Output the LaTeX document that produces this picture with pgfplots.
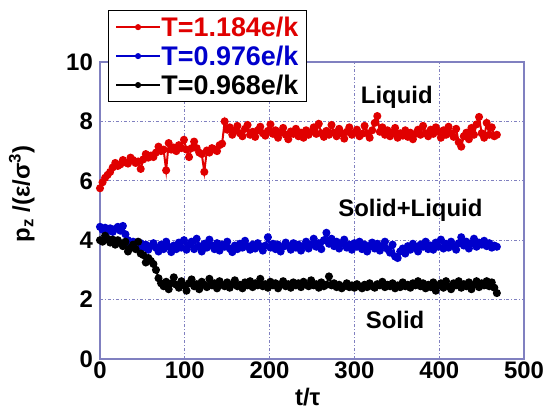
\documentclass[border=0pt]{standalone}
\usepackage{pgfplots}
\pgfplotsset{compat=1.18}
\usepackage{fontspec}
\setmainfont{Liberation Sans}
\definecolor{axc}{RGB}{128,128,192}
\definecolor{myred}{RGB}{224,0,0}
\definecolor{myblue}{RGB}{0,0,204}
\newcommand{\bigf}{\fontsize{24}{28}\selectfont\bfseries}
\newcommand{\legf}{\fontsize{27}{31}\selectfont\bfseries}

\pgfplotstableread{
x y
0 5.75
3 5.95
6 6.10
9 6.20
12 6.30
15 6.45
18 6.60
21 6.50
24 6.55
27 6.70
30 6.62
33 6.58
36 6.78
39 6.70
42 6.60
45 6.65
48 6.40
51 6.72
54 6.90
57 6.78
60 6.85
63 6.80
66 6.95
69 7.15
72 7.00
75 7.05
78 6.35
81 7.27
84 7.05
87 7.12
90 7.00
93 7.20
96 7.10
99 7.38
102 7.05
105 6.80
108 7.10
111 7.32
114 7.10
117 6.95
120 6.90
123 6.30
126 7.02
129 6.95
132 7.10
135 7.05
138 7.00
141 7.20
144 7.25
147 8.00
150 7.72
153 7.80
156 7.55
159 7.70
162 7.85
165 7.60
168 7.50
171 7.75
174 7.88
177 7.55
180 7.65
183 7.48
186 7.70
189 7.82
192 7.60
195 7.52
198 7.68
201 7.90
204 7.58
207 7.70
210 7.45
213 7.62
216 7.78
219 7.55
222 7.40
225 7.66
228 7.58
231 7.75
234 7.50
237 7.62
240 7.45
243 7.70
246 7.55
249 7.65
252 7.80
255 7.58
258 7.92
261 7.60
264 7.48
267 7.68
270 7.55
273 7.88
276 7.62
279 7.50
282 7.75
285 7.60
288 7.42
291 7.65
294 7.80
297 7.55
300 7.62
303 7.72
306 7.50
309 7.58
312 7.85
315 7.60
318 7.45
321 7.70
324 7.95
327 8.18
330 7.65
333 7.80
336 7.55
339 7.70
342 7.50
345 7.62
348 7.78
351 7.45
354 7.60
357 7.52
360 7.70
363 7.48
366 7.62
369 7.40
372 7.58
375 7.72
378 7.55
381 7.85
384 7.60
387 7.50
390 7.72
393 7.58
396 7.80
399 7.65
402 7.45
405 7.70
408 7.55
411 7.82
414 7.60
417 7.48
420 7.75
423 7.30
426 7.15
429 7.50
432 7.62
435 7.40
438 7.78
441 7.55
444 7.90
447 8.15
450 7.60
453 7.45
456 7.95
459 7.55
462 7.80
465 7.50
468 7.55
}\redtab

\pgfplotstableread{
x y
0 4.45
3 4.35
6 4.42
9 4.30
12 4.40
15 4.28
18 4.38
21 4.45
24 4.32
27 4.48
30 4.20
33 4.00
36 3.85
39 3.95
42 3.80
45 3.72
48 3.90
51 3.75
54 3.85
57 3.68
60 3.80
63 3.90
66 3.75
69 3.62
72 3.85
75 3.70
78 3.95
81 3.78
84 3.60
87 3.82
90 3.70
93 3.92
96 3.75
99 4.00
102 3.68
105 3.85
108 3.95
111 3.70
114 4.05
117 3.80
120 3.62
123 3.88
126 3.75
129 4.02
132 3.82
135 3.70
138 3.90
141 3.65
144 3.85
147 3.78
150 3.95
153 3.72
156 3.60
159 3.82
162 3.70
165 3.88
168 3.75
171 3.98
174 3.80
177 3.68
180 3.85
183 3.72
186 3.90
189 3.78
192 3.65
195 3.82
198 4.10
201 3.75
204 3.88
207 3.70
210 3.85
213 3.62
216 3.78
219 3.92
222 3.80
225 3.68
228 3.90
231 3.75
234 3.85
237 3.65
240 3.80
243 3.95
246 3.72
249 3.85
252 4.05
255 3.78
258 3.90
261 3.70
264 4.00
267 4.25
270 3.88
273 4.05
276 3.80
279 3.95
282 3.72
285 3.88
288 4.02
291 3.75
294 3.85
297 3.68
300 3.90
303 3.78
306 3.95
309 3.70
312 3.85
315 3.62
318 3.80
321 3.92
324 3.72
327 3.88
330 3.65
333 3.80
336 3.95
339 3.70
342 3.58
345 3.85
348 3.45
351 3.40
354 3.62
357 3.72
360 3.55
363 3.80
366 3.68
369 3.88
372 3.75
375 3.62
378 3.85
381 3.78
384 3.95
387 3.70
390 3.82
393 3.68
396 3.92
399 3.78
402 4.02
405 3.72
408 3.88
411 3.75
414 3.95
417 3.80
420 3.68
423 3.90
426 4.10
429 3.82
432 3.95
435 3.72
438 3.88
441 4.05
444 3.78
447 3.92
450 3.85
453 3.98
456 3.80
459 3.90
462 3.75
465 3.82
468 3.78
}\bluetab

\pgfplotstableread{
x y
0 4.00
3 3.95
6 4.15
9 4.05
12 3.92
15 4.02
18 3.85
21 4.00
24 3.90
27 3.80
30 3.95
33 3.62
36 3.75
39 3.85
42 3.70
45 3.95
48 3.55
51 3.50
54 3.25
57 3.40
60 3.30
63 3.20
66 3.00
69 2.72
72 2.55
75 2.45
78 2.60
81 2.35
84 2.55
87 2.75
90 2.50
93 2.40
96 2.62
99 2.48
102 2.30
105 2.55
108 2.68
111 2.45
114 2.52
117 2.35
120 2.60
123 2.50
126 2.42
129 2.70
132 2.48
135 2.55
138 2.38
141 2.62
144 2.50
147 2.45
150 2.58
153 2.40
156 2.52
159 2.65
162 2.45
165 2.50
168 2.38
171 2.58
174 2.48
177 2.62
180 2.42
183 2.55
186 2.48
189 2.70
192 2.45
195 2.52
198 2.40
201 2.60
204 2.48
207 2.55
210 2.38
213 2.50
216 2.62
219 2.45
222 2.52
225 2.40
228 2.58
231 2.48
234 2.55
237 2.42
240 2.60
243 2.50
246 2.45
249 2.65
252 2.48
255 2.52
258 2.40
261 2.58
264 2.45
267 2.50
270 2.78
273 2.48
276 2.55
279 2.42
282 2.50
285 2.38
288 2.45
291 2.55
294 2.42
297 2.48
300 2.40
303 2.52
306 2.45
309 2.38
312 2.50
315 2.42
318 2.55
321 2.45
324 2.40
327 2.52
330 2.48
333 2.60
336 2.42
339 2.50
342 2.45
345 2.55
348 2.38
351 2.48
354 2.42
357 2.58
360 2.45
363 2.50
366 2.40
369 2.55
372 2.48
375 2.62
378 2.45
381 2.55
384 2.38
387 2.50
390 2.42
393 2.58
396 2.30
399 2.48
402 2.55
405 2.40
408 2.62
411 2.45
414 2.35
417 2.55
420 2.48
423 2.62
426 2.40
429 2.52
432 2.45
435 2.58
438 2.35
441 2.50
444 2.62
447 2.42
450 2.55
453 2.48
456 2.62
459 2.45
462 2.58
465 2.40
468 2.22
}\blacktab

\begin{document}
\begin{tikzpicture}
\begin{axis}[
  scale only axis,
  width=424bp, height=297bp,
  xmin=0, xmax=500, ymin=0, ymax=10,
  xtick={0,100,...,500}, ytick={0,2,...,10},
  major tick length=0pt,
  axis line style={draw=axc, line width=1.2pt},
  grid=major,
  major grid style={draw=axc, line width=0.7pt, dash pattern=on 3pt off 2pt on 1pt off 2pt},
  /pgf/number format/assume math mode=true,
  tick label style={font=\bigf},
  xticklabel style={inner sep=1pt, yshift=-2pt},
  yticklabel style={inner sep=1pt, xshift=-6pt},
  xlabel={t/τ},
  ylabel={p\textsubscript{z} /(ε/σ\textsuperscript{3})},
  label style={font=\bigf},
  xlabel style={at={(axis description cs:0.49,-0.085)}, anchor=north},
  ylabel style={at={(axis description cs:-0.146,0.556)}, anchor=south},
  clip=false,
  legend cell align=left,
  legend style={at={(axis description cs:0.019,1.175)}, anchor=north west,
    font=\legf, draw=black, line width=1.3pt, inner xsep=7pt, inner ysep=5pt, row sep=6pt, fill=white,
    nodes={inner sep=1pt}},
  legend image code/.code={
    \draw[line width=1.6pt] (0cm,0cm) -- (0.6in,0cm);
    \fill (0.3in,0cm) circle (2pt);
  },
  every axis plot/.append style={line width=2pt, mark=*, mark size=3pt, mark options={solid}},
]
\addplot[color=myred] table[x=x,y=y] {\redtab};
\addlegendentry{\textcolor{myred}{T=1.184e/k}}
\addplot[color=myblue] table[x=x,y=y] {\bluetab};
\addlegendentry{\textcolor{myblue}{T=0.976e/k}}
\addplot[color=black] table[x=x,y=y] {\blacktab};
\addlegendentry{\textcolor{black}{T=0.968e/k}}
\node[font=\bigf] at (axis cs:350,8.82) {Liquid};
\node[font=\bigf] at (axis cs:366,5.0) {Solid+Liquid};
\node[font=\bigf] at (axis cs:348,1.3) {Solid};
\end{axis}
\path (current axis.south west) ++(-100bp,-53bp) coordinate (BBA);
\path (current axis.north east) ++(23bp,62bp) coordinate (BBB);
\pgfresetboundingbox
\path[use as bounding box] (BBA) rectangle (BBB);
\end{tikzpicture}
\end{document}
